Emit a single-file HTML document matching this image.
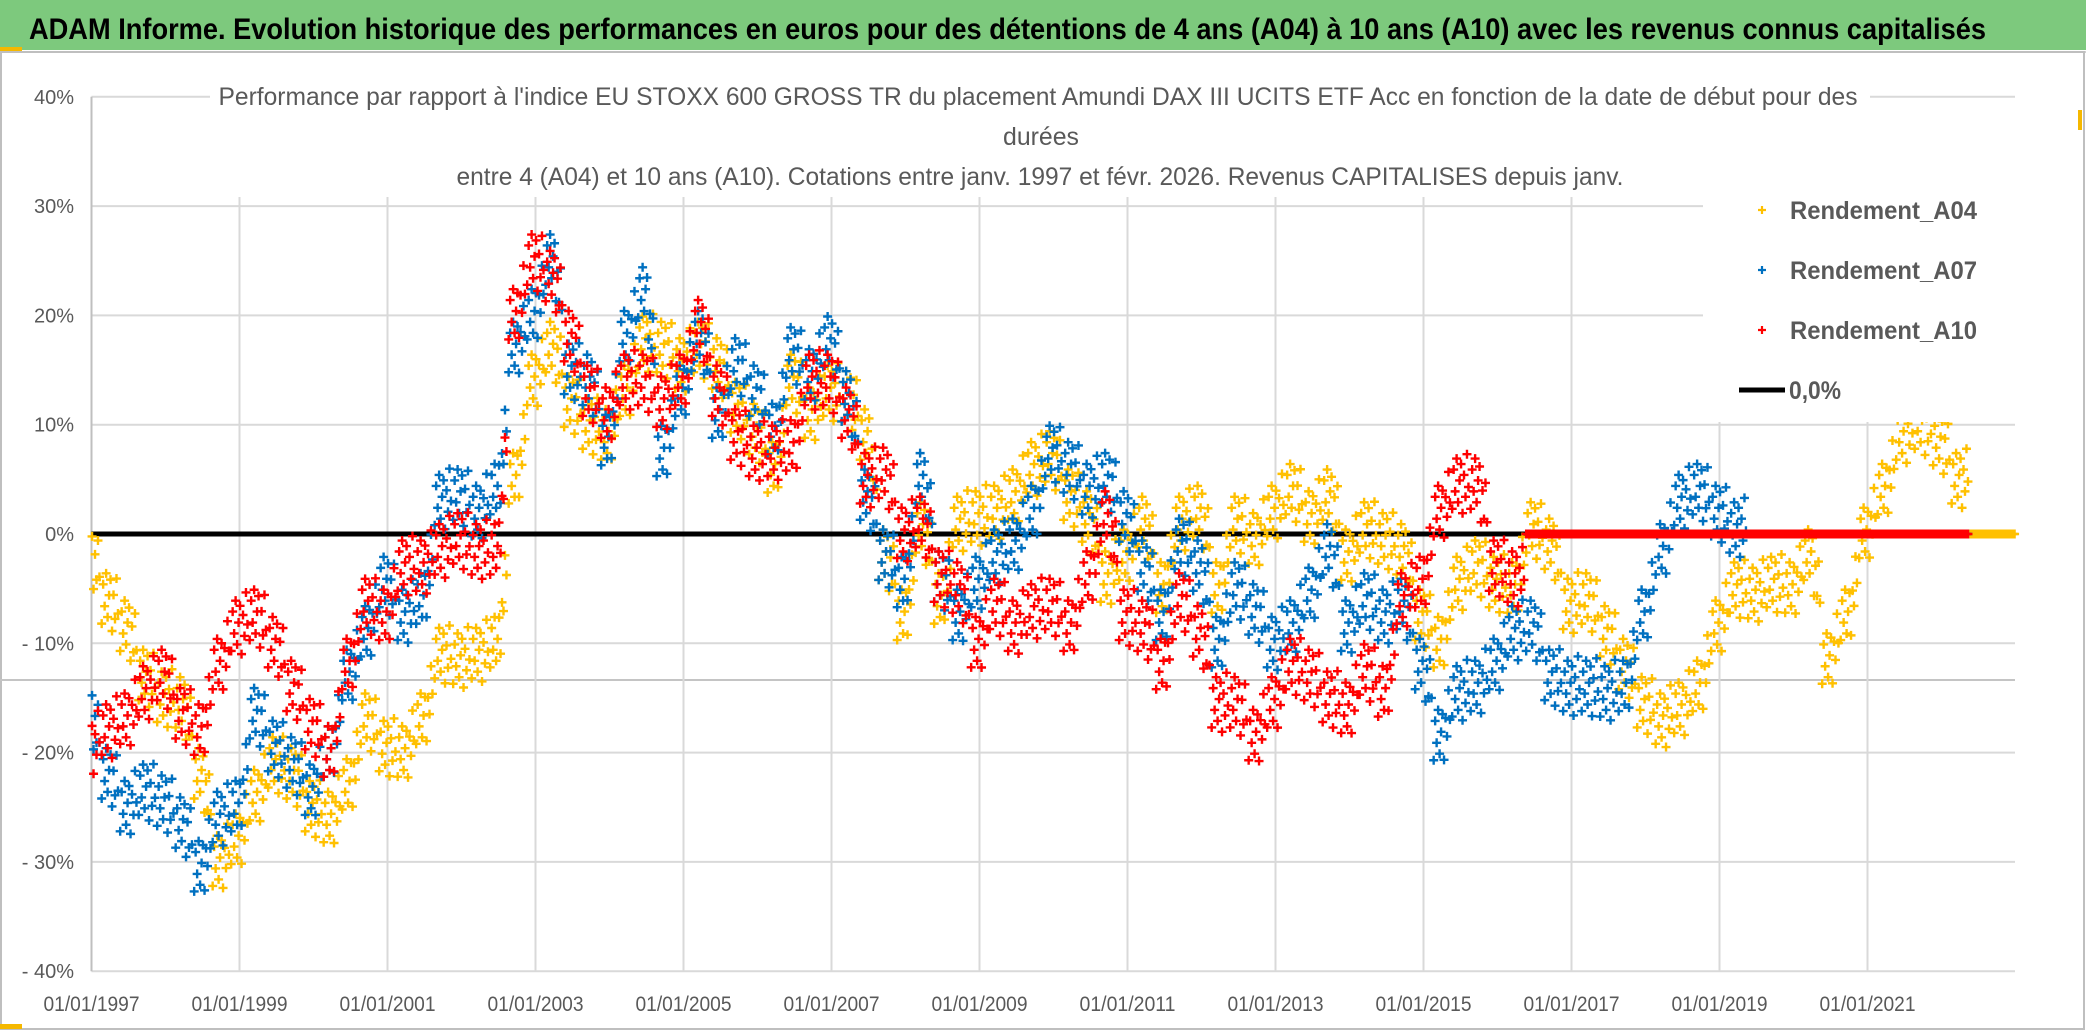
<!DOCTYPE html>
<html><head><meta charset="utf-8">
<style>
html,body{margin:0;padding:0;background:#fff;}
svg{display:block;font-family:"Liberation Sans Narrow","Liberation Sans",sans-serif;}
</style></head>
<body>
<svg id="chart" width="2086" height="1031" viewBox="0 0 2086 1031" xmlns="http://www.w3.org/2000/svg">
  <rect x="0" y="0" width="2086" height="1031" fill="#fff"/>
  <rect x="0" y="0" width="2086" height="50" fill="#7dc97d"/>
  <rect x="0" y="47" width="22" height="4" fill="#f5b800"/>
  <line x1="0" y1="52" x2="2086" y2="52" stroke="#d0d0d0" stroke-width="2"/>
  <text x="29" y="39" font-size="30" font-weight="bold" fill="#000" textLength="1957" lengthAdjust="spacingAndGlyphs">ADAM Informe. Evolution historique des performances en euros pour des détentions de 4 ans (A04) à 10 ans (A10) avec les revenus connus capitalisés</text>
  <rect x="1" y="52" width="2083" height="977" fill="none" stroke="#bfbfbf" stroke-width="2"/>
  <rect x="2078" y="110" width="4" height="20" fill="#f5b800"/>
  <rect x="0" y="1024" width="22" height="5" fill="#f5b800"/>
  <g id="grid"></g>
  <g id="series"></g>
  <g id="overlay"></g>
</svg>
<script>
const NS = "http://www.w3.org/2000/svg";
// ---- data (quarterly samples starting 1997.0) ----
const startYear = 1997;
const stepYear = 0.25;
const yTicks = [40, 30, 20, 10, 0, -10, -20, -30, -40];
const yTickLabels = ["40%", "30%", "20%", "10%", "0%", "- 10%", "- 20%", "- 30%", "- 40%"];
const xTickYears = [1997, 1999, 2001, 2003, 2005, 2007, 2009, 2011, 2013, 2015, 2017, 2019, 2021];
const xTickLabels = ["01/01/1997","01/01/1999","01/01/2001","01/01/2003","01/01/2005","01/01/2007","01/01/2009","01/01/2011","01/01/2013","01/01/2015","01/01/2017","01/01/2019","01/01/2021"];
const seriesNames = ["Rendement_A04", "Rendement_A07", "Rendement_A10"];
const a04 = [-2,-6,-8.5,-13,-15,-15.5,-22,-30,-28,-24,-21,-22,-25,-26,-23,-17,-19.5,-20,-17,-11,-11.5,-11,-10,5,14,17,
  12,10,9,13,17.5,17,15.5,17,15.5,11.5,9.5,6,14,11,13,12.5,9,-2,-7.5,0.5,-6,1,1.5,2,3.5,6,
  7,3.5,1.5,-4,-2,1,-5,1,2,-5,1,-0.5,2,4,1.5,3.5,-2,0.5,-0.5,-1.5,-7.5,-10,-4.5,-3,-4.5,
  -5,0.5,-1,-6.5,-6,-9,-12,-15.5,-17,-16,-14,-8.5,-5,-5.5,-4.5,-5,-2,-11.5,-7.5,0,4,9,10,8.5,5,0,0,0];
const a07 = [-16.5,-22,-25,-23.5,-24.5,-26.5,-30.5,-26,-25,-16.5,-19.5,-21,-23.5,-20,-13,-9,-4.5,-7.5,-6,3,3.5,2,4,17,20,25,
  15,14,8.5,18,22,7.5,13,18,11,15.5,13,9.5,16.5,14.5,17.5,12.5,3.5,-2,-4.5,5,-4,-7.5,-4.5,-2,-1,2,
  7.5,6,4,5,1.5,-3,-7.5,-1,-3,-10,-5,-7,-10,-8.5,-5.5,-1.5,-8.5,-6,-7.5,-6.5,-12,-18.5,-14.5,-14,-12,-9,
  -8.5,-13,-14,-14,-14.5,-14,-7.5,-1.5,3,4,2,0.5,0,0,0,0,0,0,0,0,0,0,0,0];
const a10 = [-19.5,-18,-17,-14.5,-13,-16.5,-18,-12,-8.5,-7.5,-10,-14,-17.5,-20,-12,-6.5,-7.5,-3,-3,-1.5,-0.5,-1.5,-1.5,20,25,23.5,
  18,13,11,14,14,12,14,19,13,9,7.5,7.5,8,14,14,11,5,5.5,0,1,-4,-5,-10,-6.5,-8.5,-7,
  -6.5,-8.5,-4,1.5,-7.5,-8.5,-12,-6,-9,-15.5,-15.5,-18.5,-15.5,-12,-13,-15,-16,-12.5,-14.5,-6,-4.5,2,4.5,4.5,-3,-4,
  0,0,0,0,0,0,0,0,0,0,0,0,0,0,0,0,0,0,0,0,0,0,0,0];
const seriesValues = [a04, a07, a10];
const seriesColors = ["#ffc000", "#0070c0", "#ff0000"];

// ---- axes ----
const X0 = 91.5, PX_PER_YEAR = 74, XEND = 2015;
const Y0 = 534, PX_PER_PCT = 10.93;
function xScale(year){ return X0 + (year - startYear) * PX_PER_YEAR; }
function yScale(v){ return Y0 - v * PX_PER_PCT; }

function mk(tag, attrs, parent){
  const e = document.createElementNS(NS, tag);
  for (const k in attrs) e.setAttribute(k, attrs[k]);
  parent.appendChild(e);
  return e;
}
const grid = document.getElementById('grid');
const series = document.getElementById('series');
const overlay = document.getElementById('overlay');

yTicks.forEach((v, i) => {
  const y = yScale(v);
  const gl = mk('line', {x1: X0, y1: y, x2: XEND, y2: y, stroke: '#d9d9d9', 'stroke-width': 2}, grid);
  
  
  const t = mk('text', {x: 74, y: y + 7, 'font-size': 20, fill: '#595959', 'text-anchor': 'end'}, grid);
  t.textContent = yTickLabels[i];
  
  
});
const art = mk('line', {x1: 0, y1: 680, x2: XEND, y2: 680, stroke: '#c4c4c4', 'stroke-width': 2}, grid);


xTickYears.forEach((yr, i) => {
  const x = xScale(yr);
  const gl = mk('line', {x1: x, y1: yScale(40), x2: x, y2: yScale(-40), stroke: i === 0 ? '#bfbfbf' : '#d9d9d9', 'stroke-width': 2}, grid);
  
  
  const t = mk('text', {x: x, y: 1011, 'font-size': 21, fill: '#595959', 'text-anchor': 'middle', textLength: 96, lengthAdjust: 'spacingAndGlyphs'}, grid);
  t.textContent = xTickLabels[i];
  
  
});

const zl = mk('line', {x1: X0, y1: yScale(0), x2: XEND, y2: yScale(0), stroke: '#000', 'stroke-width': 5}, series);



// marker cluster layout (style only)
const subX = [-0.45,-0.37,-0.29,-0.21,-0.13,-0.05,0.03,0.11,0.19,0.27,0.35,0.43];
const subY = [-2.2,1.4,-0.6,2.4,-1.6,0.4,1.9,-2.6,0.9,-1.1,2.8,-0.2];
seriesValues.forEach((vals, si) => {
  const g = mk('g', {}, series);
  
  
  let lastNonZero = -1;
  vals.forEach((v, i) => { if (v !== 0) lastNonZero = i; });
  vals.forEach((v, i) => {
    const yr = startYear + i * stepYear;
    const next = i + 1 < vals.length ? vals[i + 1] : v;
    const flat = i > lastNonZero;
    for (let k = 0; k < subX.length; k++) {
      const yrk = yr + subX[k] * stepYear;
      const x = xScale(yrk);
      if (yrk < startYear || x > XEND) continue;
      const base = (subX[k] > 0 && !flat && i + 1 <= lastNonZero) ? v + (next - v) * subX[k] : v;
      const jitter = flat ? 0 : subY[k];
      const y = yScale(base + jitter);
      const p = mk('path', {d: `M${x-4.5} ${y}h9M${x} ${y-4.5}v9`, stroke: seriesColors[si], 'stroke-width': 2.4, fill: 'none'}, g);
      
      
    }
  });
});

const tb = mk('rect', {x: 210, y: 72, width: 1660, height: 125, fill: '#fff'}, overlay);


const titleLines = [
  ["Performance par rapport à l'indice EU STOXX 600 GROSS TR  du placement Amundi DAX III UCITS ETF Acc en fonction de la date de début pour des", 1038, 105, 1639],
  ["durées", 1041, 145, 76],
  ["entre 4 (A04) et 10 ans (A10). Cotations entre janv. 1997 et févr. 2026. Revenus CAPITALISES depuis janv.", 1040, 185, 1167]
];
titleLines.forEach(l => {
  const t = mk('text', {x: l[1], y: l[2], 'font-size': 25, fill: '#595959', 'text-anchor': 'middle', textLength: l[3], lengthAdjust: 'spacingAndGlyphs'}, overlay);
  t.textContent = l[0];
  
  
});

const lb = mk('rect', {x: 1703, y: 186, width: 312, height: 236, fill: '#fff'}, overlay);


const legendY = [210, 270, 330];
seriesNames.forEach((n, i) => {
  const m = mk('path', {d: `M${1758} ${legendY[i]}h8M${1762} ${legendY[i]-4}v8`, stroke: seriesColors[i], 'stroke-width': 2.2}, overlay);
  
  
  const t = mk('text', {x: 1790, y: legendY[i] + 9, 'font-size': 25, fill: '#595959', 'font-weight': 'bold', textLength: 187, lengthAdjust: 'spacingAndGlyphs'}, overlay);
  t.textContent = n;
  
  
});
const ll = mk('line', {x1: 1739, y1: 390, x2: 1785, y2: 390, stroke: '#000', 'stroke-width': 5}, overlay);


const lt = mk('text', {x: 1789, y: 399, 'font-size': 25, fill: '#595959', 'font-weight': 'bold', textLength: 52, lengthAdjust: 'spacingAndGlyphs'}, overlay);
lt.textContent = "0,0%";


</script>
</body></html>
